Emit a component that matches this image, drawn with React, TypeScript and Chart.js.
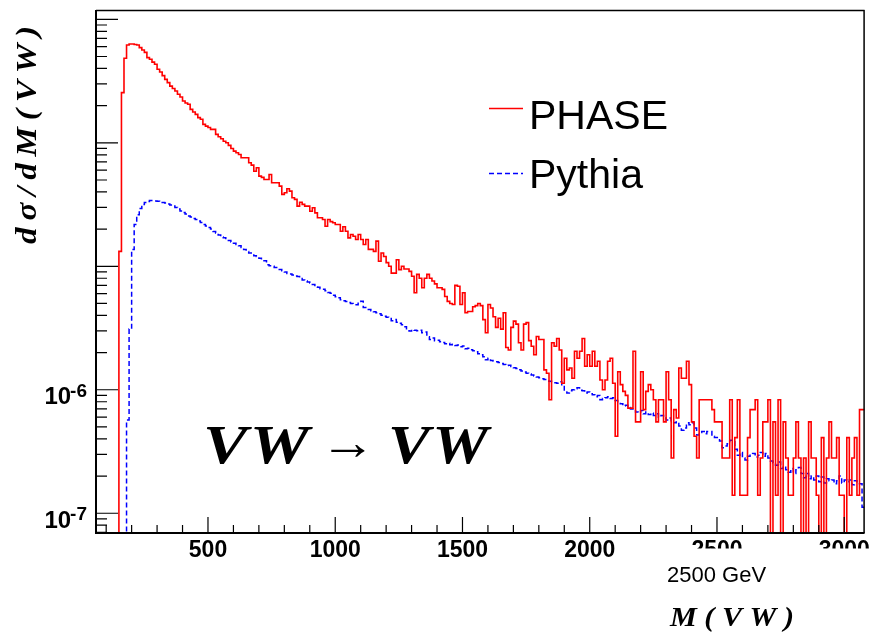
import React, { useEffect, useRef } from "react";
import { Chart, registerables } from "chart.js";

Chart.register(...registerables);

// Histogram binning (GeV)
const BIN_START = 60;
const BIN_WIDTH = 10;
const X_MIN = 60;
const X_MAX = 3080;
const Y_MIN = 6.92e-8;
const Y_MAX = 1.19e-3;
const VALUE_UNIT = 1e-7; // series below are given in units of 1e-7

const X_TICK_LABELS = [500, 1000, 1500, 2000, 2500, 3000];
const Y_LABEL_EXPONENTS = [-6, -7];
const SERIES_NAMES = ["PHASE", "Pythia"];

// dσ/dM(VW) per 10 GeV bin (first bin 60-70 GeV), units of 1e-7
const PHASE = [
  0, 0, 0, 0, 0, 0, 0, 0, 0, 132,
  2550, 4840, 6200, 6310, 6310, 6250, 6200, 5900, 5650, 5400,
  4900, 4745, 4500, 4325, 3940, 3745, 3500, 3265, 3070, 2880,
  2750, 2625, 2470, 2350, 2180, 2100, 2050, 1865, 1775, 1700,
  1600, 1550, 1410, 1366, 1330, 1285, 1285, 1170, 1120, 1080,
  1030, 1000, 953, 900, 857, 831, 805, 757, 757, 757,
  690, 660, 589, 628, 537, 525, 505, 505, 554, 475,
  475, 475, 446, 382, 394, 425, 406, 359, 348, 307,
  330, 317, 307, 307, 279, 298, 271, 247, 247, 239,
  211, 239, 230, 225, 218, 218, 192, 209, 192, 170,
  181, 175, 165, 181, 165, 150, 165, 137, 137, 132,
  160, 110, 128, 120, 107, 100, 88, 88, 113, 94,
  100, 95, 95, 91, 83, 61, 86, 80, 67, 80,
  86, 80, 76, 72, 67, 67, 65, 57, 52, 50,
  49, 70, 69, 49, 61, 42, 43, 43, 47, 48,
  50, 48, 37, 29, 49, 46, 39, 32, 38, 31,
  42, 22, 21, 32, 36, 34, 24, 21, 34, 35,
  25, 22.5, 19.2, 27, 25.5, 25.5, 14.5, 13.6, 8.3, 24,
  22.5, 26, 21, 11.3, 18, 14.5, 15, 12.4, 20.5, 18,
  20.5, 26, 15.5, 19.2, 15.5, 20.5, 15.5, 17, 12, 10,
  12, 17, 18, 11.3, 4.2, 14, 11, 9.7, 9, 7.1,
  7.1, 20.5, 5.5, 5.5, 14, 6.9, 9.7, 11, 10, 8.3,
  5.5, 8.3, 8.3, 5.5, 14, 8.3, 2.8, 6.9, 5.9, 15,
  12.4, 12.4, 17, 11, 5.5, 4.2, 2.8, 8.3, 8.3, 8.3,
  8.3, 8.3, 6.9, 5.5, 5.5, 5.5, 2.8, 2.8, 2.8, 8.3,
  1.4, 4.1, 8.3, 1.4, 1.4, 1.4, 4.1, 6.9, 6.9, 8.3,
  1.4, 2.8, 5.5, 5.5, 8.3, 0, 5.5, 1.4, 8.3, 0,
  5.5, 2.8, 1.4, 1.4, 2.8, 5.5, 2.8, 0, 2.8, 0,
  5.5, 2.8, 2.8, 1.4, 0, 4.1, 0, 2.8, 5.5, 2.8,
  2.8, 4.1, 1.4, 1.4, 0, 4.1, 1.4, 2.8, 4.1, 1.4,
  6.9, 6.9,
];

const PYTHIA = [
  0, 0, 0, 0, 0, 0, 0, 0, 0, 0,
  0, 0, 5.7, 31, 137, 218, 262, 294, 317, 329,
  335, 341, 341, 338, 337, 335, 329, 326, 320, 314,
  308, 299, 291, 281, 273, 265, 255, 251, 244, 239,
  233, 226, 218, 212, 206, 200, 191, 186, 179, 173,
  170, 165, 162, 157, 154, 150, 147, 142, 137, 132,
  128, 126, 122, 120, 116, 113, 111, 103, 101, 100,
  97.7, 95.8, 94, 92, 90, 87.3, 86.5, 85, 83.3, 82.5,
  79.5, 77.3, 75.9, 74.5, 73.1, 71.1, 68.4, 67.8, 65.9, 65.3,
  63.5, 61.2, 60.6, 58.4, 56.8, 55.7, 53.7, 52.7, 51.8, 50.8,
  49.9, 48.9, 48.9, 51.8, 52.2, 46.3, 45.4, 44.6, 43.7, 42.9,
  42.1, 41.3, 40.2, 39.4, 38.7, 38.4, 36.3, 37, 35.3, 34.6,
  33.6, 32.4, 30.7, 29.9, 30.7, 30.4, 30, 30.4, 29, 29.3,
  26.9, 25.5, 26.2, 25, 25.2, 24.5, 24.1, 23.6, 23.8, 23.2,
  23.4, 22.8, 23, 22.3, 22.6, 21.5, 21.7, 21.1, 20.7, 20.3,
  19.6, 19.2, 18.5, 17.5, 18, 17.3, 17.1, 16.9, 16.6, 16.3,
  16, 15.7, 15.8, 15.4, 15.1, 14.9, 14.5, 14.2, 13.9, 13.6,
  13.4, 13.2, 12.9, 12.7, 12.5, 12.3, 12.1, 11.8, 11.7, 11.6,
  11.4, 11.3, 11.6, 10.8, 9.6, 9.4, 9.8, 10, 10.2, 10.4,
  9.9, 9.8, 9.4, 9.6, 9.3, 9.1, 8.8, 9, 8.3, 8.5,
  8.6, 8.8, 8.5, 8.6, 8.2, 8, 7.7, 7.4, 7.5, 7.2,
  7, 6.9, 6.6, 6.5, 6.8, 6.4, 6.6, 6.3, 6.5, 6.2,
  6.4, 6, 6.2, 5.9, 5.7, 5.9, 5.6, 5.4, 5.5, 5.1,
  4.7, 4.9, 5.4, 5.2, 5.4, 4.9, 4.3, 4.5, 4.6, 4.4,
  4.6, 4.6, 4.2, 4.1, 4.1, 3.85, 3.4, 3.5, 3.65, 3.9,
  3.8, 3.3, 2.95, 3.1, 2.8, 2.7, 2.9, 3.0, 3.05, 2.85,
  2.95, 3.1, 2.9, 3.05, 2.8, 2.65, 2.55, 2.45, 2.6, 2.3,
  2.4, 2.25, 2.15, 2.3, 2.1, 2.25, 2.35, 2.1, 1.94, 2.1,
  1.9, 2.0, 1.86, 2.0, 1.8, 1.97, 1.76, 1.9, 1.83, 1.86,
  1.73, 1.83, 2.0, 1.76, 1.86, 1.8, 1.86, 1.7, 1.83, 1.76,
  1.73, 1.12,
];

const SANS = '"Liberation Sans", Arial, Helvetica, sans-serif';
const SERIF = '"Liberation Serif", "Times New Roman", serif';

// histogram as step points at the lower bin edges (+ closing upper edge)
function toSteps(values: number[]) {
  const floor = (v: number) => (v > 0 ? v * VALUE_UNIT : Y_MIN);
  const pts = values.map((v, i) => ({ x: BIN_START + i * BIN_WIDTH, y: floor(v) }));
  pts.push({ x: BIN_START + values.length * BIN_WIDTH, y: floor(values[values.length - 1]) });
  return pts;
}

// draw text with a letter gap, stretched horizontally to a target width
function drawFitted(
  ctx: CanvasRenderingContext2D,
  text: string,
  x: number,
  y: number,
  width: number,
  gap: number
) {
  const chars = Array.from(text);
  const widths = chars.map((c) => ctx.measureText(c).width);
  const natural = widths.reduce((a, b) => a + b, 0) + gap * (chars.length - 1);
  const s = width / natural;
  ctx.save();
  ctx.translate(x, y);
  ctx.scale(s, 1);
  let cx = 0;
  chars.forEach((c, i) => {
    ctx.fillText(c, cx, 0);
    cx += widths[i] + gap;
  });
  ctx.restore();
}

const rootFrame = {
  id: "rootFrame",
  afterDraw(chart: any) {
    const { ctx, chartArea: a, scales } = chart;
    const xs = scales.x;
    const ys = scales.y;
    ctx.save();
    ctx.strokeStyle = "#000";
    ctx.fillStyle = "#000";

    // y ticks (inward)
    ctx.lineWidth = 1.2;
    ctx.beginPath();
    for (let e = -9; e <= -2; e++) {
      for (let m = 1; m <= 9; m++) {
        const v = m * Math.pow(10, e);
        if (v < Y_MIN || v > Y_MAX) continue;
        const py = ys.getPixelForValue(v);
        const len = m === 1 ? 22 : 11;
        ctx.moveTo(a.left, py);
        ctx.lineTo(a.left + len, py);
      }
    }
    // x ticks (inward)
    for (let v = 100; v <= X_MAX; v += 100) {
      if (v < X_MIN) continue;
      const px = xs.getPixelForValue(v);
      const len = v % 500 === 0 ? 16 : 8;
      ctx.moveTo(px, a.bottom);
      ctx.lineTo(px, a.bottom - len);
    }
    ctx.stroke();

    // frame
    ctx.lineWidth = 1.5;
    ctx.beginPath();
    ctx.moveTo(a.left, a.top + 0.5);
    ctx.lineTo(a.right, a.top + 0.5);
    ctx.moveTo(a.right - 0.5, a.top);
    ctx.lineTo(a.right - 0.5, a.bottom);
    ctx.stroke();
    ctx.lineWidth = 2;
    ctx.beginPath();
    ctx.moveTo(a.left, a.top);
    ctx.lineTo(a.left, a.bottom + 1);
    ctx.moveTo(a.left - 1, a.bottom);
    ctx.lineTo(a.right, a.bottom);
    ctx.stroke();

    // y labels 10^n
    ctx.textBaseline = "alphabetic";
    Y_LABEL_EXPONENTS.forEach((e) => {
      const py = ys.getPixelForValue(Math.pow(10, e));
      const sup = String(e);
      ctx.font = `bold 19px ${SANS}`;
      const sw = ctx.measureText(sup).width;
      const R = 87;
      ctx.textAlign = "left";
      ctx.fillText(sup, R - sw, py + 7);
      ctx.font = `bold 24px ${SANS}`;
      ctx.textAlign = "right";
      ctx.fillText("10", R - sw + 1, py + 14.5);
    });

    // legend
    ctx.textAlign = "left";
    ctx.lineWidth = 1.6;
    ctx.strokeStyle = "#ff0000";
    ctx.beginPath();
    ctx.moveTo(489, 108.5);
    ctx.lineTo(523, 108.5);
    ctx.stroke();
    ctx.strokeStyle = "#0000ff";
    ctx.lineWidth = 1.5;
    ctx.setLineDash([5, 3]);
    ctx.beginPath();
    ctx.moveTo(489, 173.5);
    ctx.lineTo(523, 173.5);
    ctx.stroke();
    ctx.setLineDash([]);
    ctx.fillStyle = "#000";
    ctx.font = `41px ${SANS}`;
    ctx.fillText(SERIES_NAMES[0], 529, 128.5);
    ctx.fillText(SERIES_NAMES[1], 529, 188);

    // process label
    ctx.font = `bold italic 55px ${SERIF}`;
    drawFitted(ctx, "VW", 203, 463, 106, 2);
    drawFitted(ctx, "VW", 388, 463, 100, 2);
    ctx.font = `bold 50px ${SERIF}`;
    drawFitted(ctx, "\u2192", 320, 459, 56, 0);

    // cover box with energy note
    ctx.fillStyle = "#fff";
    ctx.fillRect(660, 548.5, 214, 48);
    ctx.fillStyle = "#000";
    ctx.font = `22px ${SANS}`;
    ctx.fillText("2500 GeV", 667, 582);

    // axis titles
    ctx.font = `bold italic 28px ${SERIF}`;
    drawFitted(ctx, "M(VW)", 670, 626, 124, 7);
    ctx.save();
    ctx.translate(36, 244);
    ctx.rotate(-Math.PI / 2);
    ctx.font = `bold italic 29px ${SERIF}`;
    drawFitted(ctx, "d\u03c3/dM(VW)", 0, 0, 218, 6);
    ctx.restore();

    ctx.restore();
  },
};

export default function App() {
  const ref = useRef<HTMLCanvasElement | null>(null);

  useEffect(() => {
    if (!ref.current) return;
    const chart = new Chart(ref.current, {
      type: "line",
      data: {
        datasets: [
          {
            label: SERIES_NAMES[0],
            data: toSteps(PHASE),
            borderColor: "#ff0000",
            borderWidth: 1.6,
            stepped: "before",
            pointRadius: 0,
            fill: false,
          },
          {
            label: SERIES_NAMES[1],
            data: toSteps(PYTHIA),
            borderColor: "#0000ff",
            borderWidth: 1.5,
            borderDash: [5, 3],
            stepped: "before",
            pointRadius: 0,
            fill: false,
          },
        ],
      },
      options: {
        responsive: false,
        animation: false,
        events: [],
        parsing: false as any,
        layout: { padding: { left: 0, top: 10, right: 7, bottom: 0 } },
        plugins: { legend: { display: false }, tooltip: { enabled: false } },
        scales: {
          x: {
            type: "linear",
            min: X_MIN,
            max: X_MAX,
            grid: { display: false, drawTicks: false },
            border: { display: false },
            afterBuildTicks: (s: any) => {
              s.ticks = X_TICK_LABELS.map((v) => ({ value: v }));
            },
            afterFit: (s: any) => {
              s.height = 99;
            },
            ticks: {
              autoSkip: false,
              maxRotation: 0,
              padding: 4,
              color: "#000",
              font: { family: SANS, size: 23, weight: "bold" },
              callback: (v: any) => String(v),
            },
          },
          y: {
            type: "logarithmic",
            min: Y_MIN,
            max: Y_MAX,
            grid: { display: false, drawTicks: false },
            border: { display: false },
            ticks: { display: false },
            afterFit: (s: any) => {
              s.width = 96;
            },
          },
        },
      },
      plugins: [rootFrame],
    } as any);
    return () => chart.destroy();
  }, []);

  return (
    <div style={{ position: "fixed", left: 0, top: 0, width: 874, height: 632, background: "#fff" }}>
      <canvas ref={ref} width={874} height={632} style={{ display: "block", width: 874, height: 632 }} />
    </div>
  );
}
